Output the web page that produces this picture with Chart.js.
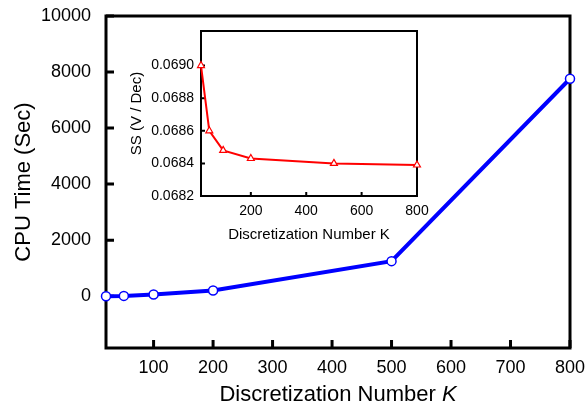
<!DOCTYPE html>
<html>
<head>
<meta charset="utf-8">
<script src="https://cdn.jsdelivr.net/npm/chart.js@4.4.1/dist/chart.umd.min.js"></script>
<style>
  html, body { margin:0; padding:0; background:#fff; }
  #wrap { position:relative; width:587px; height:411px; }
  #mainChart { position:absolute; left:0; top:0; }
  #insetChart { position:absolute; left:120px; top:25px; }
</style>
</head>
<body>
<div id="wrap">
  <canvas id="mainChart" width="587" height="411"></canvas>
  <canvas id="insetChart" width="320" height="230"></canvas>
</div>
<script>
// main plot: CPU time vs discretization number
const kValues = [20, 50, 100, 200, 500, 800];
const cpuTime = [0, 10, 60, 200, 1250, 7760];
const mainXTicks = [100, 200, 300, 400, 500, 600, 700, 800];
const mainYTicks = [0, 2000, 4000, 6000, 8000, 10000];

// inset: subthreshold swing
const ssValues = [0.06900, 0.06860, 0.06848, 0.06843, 0.06840, 0.06839];
const insetXTicks = [200, 400, 600, 800];
const insetYTicks = [0.0682, 0.0684, 0.0686, 0.0688, 0.0690];

const FONT = 'Arial, "Liberation Sans", sans-serif';

// box around the plot area + ticks pointing inward
function framePlugin(lw, tickLen){
  return {
    id: 'frame',
    beforeDatasetsDraw(chart){
      const {ctx, chartArea:a, scales} = chart;
      ctx.save();
      ctx.strokeStyle = '#000';
      ctx.lineWidth = lw;
      ctx.strokeRect(a.left, a.top, a.right - a.left, a.bottom - a.top);
      ctx.beginPath();
      scales.x.ticks.forEach(t => {
        const px = scales.x.getPixelForValue(t.value);
        ctx.moveTo(px, a.bottom);
        ctx.lineTo(px, a.bottom - tickLen);
      });
      scales.y.ticks.forEach(t => {
        const py = scales.y.getPixelForValue(t.value);
        ctx.moveTo(a.left, py);
        ctx.lineTo(a.left + tickLen, py);
      });
      ctx.stroke();
      ctx.restore();
    }
  };
}

// x title with italic K
const mainXTitle = {
  id: 'xtitle',
  afterDraw(chart){
    const {ctx, chartArea:a} = chart;
    const part1 = 'Discretization Number ';
    const part2 = 'K';
    ctx.save();
    ctx.fillStyle = '#000';
    ctx.textBaseline = 'middle';
    ctx.font = '22px ' + FONT;
    const w1 = ctx.measureText(part1).width;
    ctx.font = 'italic 22px ' + FONT;
    const w2 = ctx.measureText(part2).width;
    const x0 = (a.left + a.right) / 2 - (w1 + w2) / 2;
    ctx.textAlign = 'left';
    ctx.font = '22px ' + FONT;
    ctx.fillText(part1, x0, 395);
    ctx.font = 'italic 22px ' + FONT;
    ctx.fillText(part2, x0 + w1, 395);
    ctx.restore();
  }
};

const noPadX = s => { s.paddingLeft = 0; s.paddingRight = 0; };
const noPadY = s => { s.paddingTop = 0; s.paddingBottom = 0; };

new Chart(document.getElementById('mainChart'), {
  type: 'line',
  data: {
    datasets: [{
      data: kValues.map((k, i) => ({x: k, y: cpuTime[i]})),
      borderColor: '#0000ff',
      borderWidth: 4,
      pointBackgroundColor: '#fff',
      pointBorderColor: '#0000ff',
      pointBorderWidth: 1.5,
      pointRadius: 4.5,
      tension: 0,
      clip: false
    }]
  },
  options: {
    responsive: false,
    animation: false,
    layout: { padding: { top: 16, right: 17, left: 0, bottom: 0 } },
    plugins: { legend: { display: false }, tooltip: { enabled: false } },
    scales: {
      x: {
        type: 'linear', min: 20, max: 800,
        afterBuildTicks: s => { s.ticks = mainXTicks.map(v => ({value: v})); },
        afterFit: s => { s.height = 63; noPadX(s); },
        grid: { display: false, drawTicks: false },
        border: { display: false },
        ticks: { color: '#000', font: { size: 18, family: FONT }, padding: 9, maxRotation: 0, callback: v => String(v) }
      },
      y: {
        type: 'linear', min: -1850, max: 10000,
        afterBuildTicks: s => { s.ticks = mainYTicks.map(v => ({value: v})); },
        afterFit: s => { s.width = 106; noPadY(s); },
        grid: { display: false, drawTicks: false },
        border: { display: false },
        ticks: { color: '#000', font: { size: 18, family: FONT }, padding: 15, callback: v => String(v) },
        title: { display: true, text: 'CPU Time (Sec)', color: '#000', font: { size: 22, family: FONT }, padding: { top: 11, bottom: 0 } }
      }
    }
  },
  plugins: [framePlugin(3, 8), mainXTitle]
});

new Chart(document.getElementById('insetChart'), {
  type: 'line',
  data: {
    datasets: [{
      data: kValues.map((k, i) => ({x: k, y: ssValues[i]})),
      borderColor: '#ff0000',
      borderWidth: 2,
      pointStyle: 'triangle',
      pointBackgroundColor: '#fff',
      pointBorderColor: '#ff0000',
      pointBorderWidth: 1.2,
      pointRadius: 4,
      tension: 0,
      clip: false
    }]
  },
  options: {
    responsive: false,
    animation: false,
    layout: { padding: { top: 6, right: 23, left: 0, bottom: 0 } },
    plugins: { legend: { display: false }, tooltip: { enabled: false } },
    scales: {
      x: {
        type: 'linear', min: 20, max: 800,
        afterBuildTicks: s => { s.ticks = insetXTicks.map(v => ({value: v})); },
        afterFit: s => { s.height = 59; noPadX(s); },
        grid: { display: false, drawTicks: false },
        border: { display: false },
        ticks: { color: '#000', font: { size: 14, family: FONT }, padding: 7, maxRotation: 0, callback: v => String(v) },
        title: { display: true, text: 'Discretization Number K', color: '#000', font: { size: 15, family: FONT }, padding: { top: 0, bottom: 11 } }
      },
      y: {
        type: 'linear', min: 0.0682, max: 0.069212,
        afterBuildTicks: s => { s.ticks = insetYTicks.map(v => ({value: v})); },
        afterFit: s => { s.width = 81; noPadY(s); },
        grid: { display: false, drawTicks: false },
        border: { display: false },
        ticks: { color: '#000', font: { size: 14, family: FONT }, padding: 7, callback: v => v.toFixed(4) },
        title: { display: true, text: 'SS (V / Dec)', color: '#000', font: { size: 15, family: FONT }, padding: { top: 8, bottom: 0 } }
      }
    }
  },
  plugins: [framePlugin(2, 4)]
});
</script>
</body>
</html>
